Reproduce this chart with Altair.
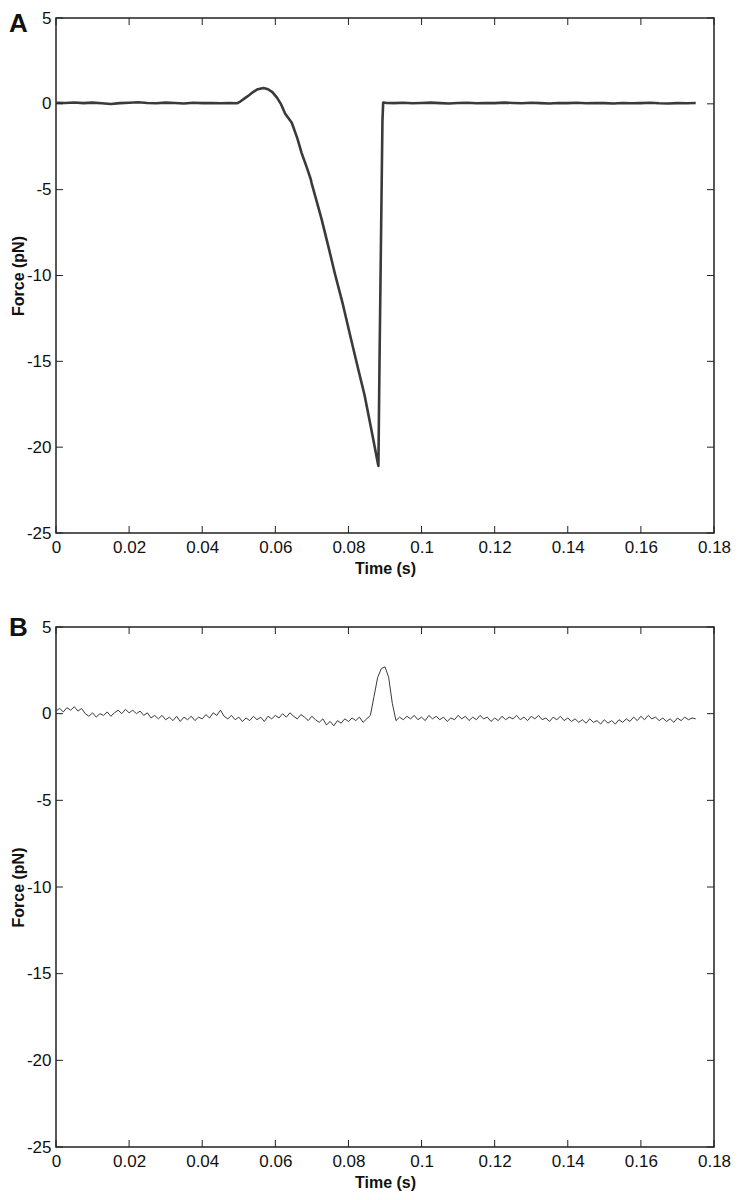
import altair as alt
import pandas as pd

# ---------- data ----------
x_ticks = [0, 0.02, 0.04, 0.06, 0.08, 0.1, 0.12, 0.14, 0.16, 0.18]
y_ticks = [-25, -20, -15, -10, -5, 0, 5]

# Panel A: force trace (time s, force pN)
a_time = [0.0, 0.0025, 0.005, 0.0075, 0.01, 0.0125, 0.015, 0.0175, 0.02, 0.0225,
          0.025, 0.0275, 0.03, 0.0325, 0.035, 0.0375, 0.04, 0.0425, 0.045, 0.0475,
          0.0495, 0.0505, 0.0515, 0.0528, 0.054, 0.0552, 0.0568, 0.058, 0.0592, 0.0605,
          0.0615, 0.0627, 0.0645, 0.066, 0.0672, 0.0686, 0.0697, 0.0699, 0.0712, 0.0726,
          0.0745, 0.0763, 0.0785, 0.0807, 0.0825, 0.0844, 0.0862, 0.088, 0.0882, 0.0885,
          0.0889, 0.0893, 0.0895, 0.0905,
          0.0925, 0.095, 0.0975, 0.1, 0.1025, 0.105, 0.1075, 0.11, 0.1125, 0.115,
          0.1175, 0.12, 0.1225, 0.125, 0.1275, 0.13, 0.1325, 0.135, 0.1375, 0.14,
          0.1425, 0.145, 0.1475, 0.15, 0.1525, 0.155, 0.1575, 0.16, 0.1625, 0.165,
          0.1675, 0.17, 0.1725, 0.175]
a_force = [0.06, 0.05, 0.08, 0.04, 0.07, 0.03, -0.01, 0.04, 0.06, 0.09,
           0.05, 0.03, 0.07, 0.05, 0.02, 0.06, 0.04, 0.05, 0.03, 0.04,
           0.03, 0.15, 0.3, 0.5, 0.7, 0.85, 0.92, 0.85, 0.68, 0.35,
           0.0, -0.58, -1.1, -2.0, -2.87, -3.7, -4.4, -4.6, -5.6, -6.67,
           -8.3, -9.9, -11.7, -13.7, -15.3, -16.96, -18.9, -20.9, -21.1, -15.0,
           -8.0, -1.0, 0.08, 0.05,
           0.04, 0.06, 0.03, 0.05, 0.07, 0.04, 0.02, 0.05, 0.06, 0.03,
           0.05, 0.04, 0.07, 0.05, 0.03, 0.06, 0.04, 0.02, 0.05, 0.04,
           0.06, 0.03, 0.05, 0.04, 0.02, 0.05, 0.03, 0.04, 0.06, 0.03,
           0.02, 0.04, 0.03, 0.05]

# Panel B: force trace, one value per ms from 0 to 0.175 s
b_force = [0.15, 0.3, 0.1, 0.35, 0.2, 0.4, 0.15, 0.3, 0.0, -0.15,
           0.05, -0.2, 0.0, -0.1, 0.1, -0.15, 0.05, 0.2, 0.0, 0.25,
           0.05, 0.2, 0.0, 0.15, -0.1, 0.05, -0.25, -0.1, -0.3, -0.1,
           -0.35, -0.2, -0.4, -0.15, -0.45, -0.2, -0.35, -0.15, -0.4, -0.2,
           -0.3, -0.05, -0.25, 0.05, -0.1, 0.2, -0.15, -0.3, -0.1, -0.35,
           -0.2, -0.45, -0.25, -0.4, -0.15, -0.35, -0.2, -0.45, -0.15, -0.3,
           -0.1, -0.25, 0.0, -0.2, 0.05, -0.15, -0.3, -0.05, -0.2, -0.4,
           -0.15, -0.35, -0.5, -0.3, -0.65, -0.45, -0.7, -0.4, -0.55, -0.3,
           -0.45, -0.25, -0.4, -0.2, -0.5, -0.3, -0.1, 1.0, 2.1, 2.6,
           2.7, 2.1, 0.6, -0.4, -0.2, -0.35, -0.15, -0.3, -0.1, -0.35,
           -0.2, -0.4, -0.1, -0.3, -0.15, -0.35, -0.2, -0.45, -0.25, -0.35,
           -0.1, -0.3, -0.15, -0.4, -0.2, -0.35, -0.1, -0.3, -0.2, -0.45,
           -0.25, -0.4, -0.15, -0.35, -0.2, -0.3, -0.1, -0.35, -0.2, -0.4,
           -0.15, -0.3, -0.1, -0.35, -0.25, -0.45, -0.2, -0.35, -0.15, -0.4,
           -0.25, -0.45, -0.3, -0.5, -0.35, -0.55, -0.3, -0.5, -0.4, -0.6,
           -0.35, -0.55, -0.4, -0.6, -0.35, -0.5, -0.3, -0.45, -0.2, -0.4,
           -0.15, -0.35, -0.1, -0.3, -0.2, -0.4, -0.25, -0.45, -0.3, -0.5,
           -0.25, -0.4, -0.2, -0.35, -0.25, -0.3]
b_time = [i / 1000 for i in range(len(b_force))]

# ---------- chart ----------
W = 658
FONT = "Liberation Sans"
INK = "#222222"
LINE = "#3a3a3a"


def panel(t, f, label, sw, h):
    df = pd.DataFrame({"t": t, "f": f})
    xs = alt.Scale(domain=[0, 0.18], nice=False, zero=False)
    ys = alt.Scale(domain=[-25, 5], nice=False, zero=False)
    xax = alt.Axis(values=x_ticks, labelExpr="'' + datum.value", title="Time (s)",
                   labelPadding=6, titlePadding=5, labelFlush=False)
    yax = alt.Axis(values=y_ticks, labelExpr="'' + datum.value", title="Force (pN)",
                   labelPadding=5, titleX=-30, titleY=h / 2, titleBaseline="bottom",
                   labelFlush=False)
    line = alt.Chart(df).mark_line(color=LINE, strokeWidth=sw, strokeJoin="round").encode(
        x=alt.X("t:Q", scale=xs, axis=xax),
        y=alt.Y("f:Q", scale=ys, axis=yax),
    )
    ydf = pd.DataFrame({"f": y_ticks})
    xdf = pd.DataFrame({"t": x_ticks})
    yl = alt.Chart(ydf).mark_rule(color=INK, strokeWidth=1).encode(
        y=alt.Y("f:Q", scale=ys, axis=yax), x=alt.value(0), x2=alt.value(7))
    yr = alt.Chart(ydf).mark_rule(color=INK, strokeWidth=1).encode(
        y=alt.Y("f:Q", scale=ys, axis=yax), x=alt.value(W - 7), x2=alt.value(W))
    xb = alt.Chart(xdf).mark_rule(color=INK, strokeWidth=1).encode(
        x=alt.X("t:Q", scale=xs, axis=xax), y=alt.value(h - 7), y2=alt.value(h))
    xt = alt.Chart(xdf).mark_rule(color=INK, strokeWidth=1).encode(
        x=alt.X("t:Q", scale=xs, axis=xax), y=alt.value(0), y2=alt.value(7))
    lab = alt.Chart(pd.DataFrame({"s": [label]})).mark_text(
        font=FONT, fontSize=26, fontWeight="bold", color="#111111",
        align="left", baseline="middle").encode(
        text="s:N", x=alt.value(-47), y=alt.value(6 if label == "A" else 1))
    return alt.layer(line, yl, yr, xb, xt, lab).properties(width=W, height=h)


pA = panel(a_time, a_force, "A", 2.6, 515)
pB = panel(b_time, b_force, "B", 1.0, 520)

chart = alt.vconcat(pA, pB, spacing=94, bounds="flush").configure_view(
    stroke=INK, strokeWidth=1.5
).configure_axis(
    domain=False, ticks=False, grid=False,
    labelFont=FONT, labelFontSize=17, labelColor="#111111",
    titleFont=FONT, titleFontSize=16, titleFontWeight="bold", titleColor="#111111",
).properties(padding={"left": 0, "top": 0, "right": 0, "bottom": 0})

chart.save("out.html", embed_options={"renderer": "svg", "actions": False})
